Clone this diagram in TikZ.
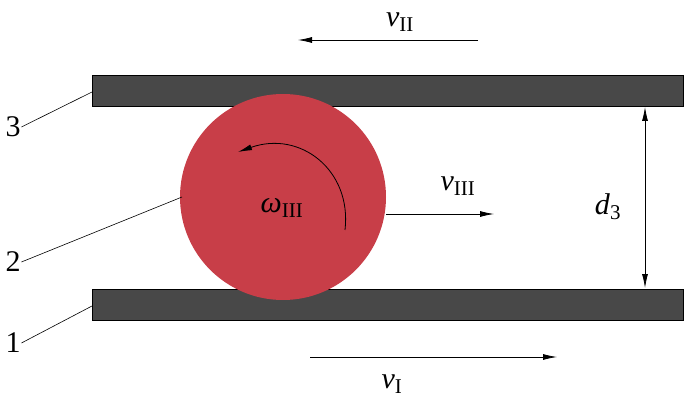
\documentclass[tikz,border=0pt]{standalone}
\usepackage{fontspec}
\setmainfont{Liberation Serif}
\usetikzlibrary{arrows.meta}
\definecolor{plategray}{RGB}{72,72,72}
\definecolor{ballred}{RGB}{200,62,72}
\newcommand{\qty}[2]{\textit{#1}\textsubscript{#2}}
\tikzset{
  plate/.style={draw=black,fill=plategray,line width=0.6pt},
  lbl/.style={inner sep=0.75pt,font=\fontsize{30}{34}\selectfont},
  vel/.style={-{Latex[length=14pt,width=6pt]},line width=0.8pt},
  leader/.style={line width=0.6pt}
}
\begin{document}
\begin{tikzpicture}[x=1pt,y=1pt,yscale=-1]
        \useasboundingbox (0,0) rectangle (685,406);

        % plates and ball
        \draw[plate] (92,75) rectangle (683,106);
        \draw[plate] (92,289) rectangle (683,320);
        \node[circle,fill=ballred,minimum size=206pt,inner sep=0pt] (ball) at (283,197) {};

        % velocity arrows
        \coordinate (vIIa) at (478,40);
        \coordinate (vIIb) at (298,40);
        \draw[vel] (vIIa) -- (vIIb);
        \coordinate (vIIIa) at (386,214);
        \coordinate (vIIIb) at (494,214);
        \draw[vel] (vIIIa) -- (vIIIb);
        \coordinate (vIa) at (310,357);
        \coordinate (vIb) at (557,357);
        \draw[vel] (vIa) -- (vIb);

        % gap
        \coordinate (dtop) at (645,107);
        \coordinate (dbot) at (645,288);
        \draw[{Latex[length=14pt,width=6pt]}-{Latex[length=14pt,width=6pt]},line width=0.8pt] (dtop) -- (dbot);

        % rotation
        \coordinate (wa) at (345,230);
        \coordinate (wb) at (238,152);
        \draw[vel] (wa) .. controls (352,170) and (300,130) .. (wb);

        % Text Node
        \node[lbl] (lII) at (400,22) {\qty{v}{II}};
        \node[lbl] (lIII) at (458,186) {\qty{v}{III}};
        \node[lbl] (lI) at (392,384) {\qty{v}{I}};
        \node[lbl] (ld) at (608,207) {\qty{d}{3}};
        \node[lbl] (lw) at (282,208) {\qty{ω}{III}};
        \node[lbl] (n3) at (13,127) {3};
        \node[lbl] (n2) at (13,262) {2};
        \node[lbl] (n1) at (13,343) {1};

        % leaders
        \draw[leader] (n3.east) -- (92,92);
        \draw[leader] (n2.east) -- (182,197);
        \draw[leader] (n1.east) -- (92,306);
\end{tikzpicture}
\end{document}
